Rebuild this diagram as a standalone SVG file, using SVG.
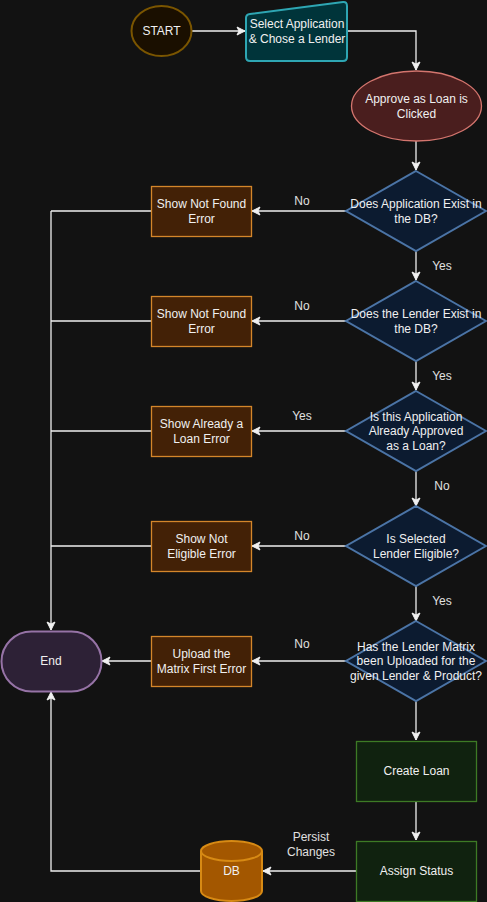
<svg xmlns="http://www.w3.org/2000/svg" width="487" height="902" viewBox="0 0 487 902">
<defs>
<marker id="arr" viewBox="0 0 10 10" refX="9" refY="5" markerWidth="10" markerHeight="10" markerUnits="userSpaceOnUse" orient="auto">
<path d="M1,1 L9,5 L1,9 L3,5 z" fill="#f0f0f0" stroke="#f0f0f0" stroke-width="1"/>
</marker>
<style>
text{font-family:"Liberation Sans",Arial,sans-serif;font-size:12px;fill:#f0f0f0;text-anchor:middle}
.e{fill:none;stroke:#f0f0f0;stroke-width:1.3}
.a{marker-end:url(#arr)}
.err{fill:#432106;stroke:#d4862a;stroke-width:1.3}
.dia{fill:#0c1b30;stroke:#4b74a6;stroke-width:2}
.grn{fill:#10220f;stroke:#3d7a25;stroke-width:1.3}
.lbl{fill:#e0e0e0}
</style>
</defs>
<rect width="487" height="902" fill="#121212"/>
<g id="connectors">
<path class="e a" d="M192,31 H245"/>
<path class="e a" d="M347,31 H416 V70"/>
<path class="e a" d="M416,141 V170"/>
<path class="e a" d="M346,211 H252"/>
<path class="e" d="M151,211 H51"/>
<path class="e a" d="M416,251 V280"/>
<path class="e a" d="M346,321 H252"/>
<path class="e" d="M151,321 H51"/>
<path class="e a" d="M416,361 V390"/>
<path class="e a" d="M346,431 H252"/>
<path class="e" d="M151,431 H51"/>
<path class="e a" d="M416,471 V506"/>
<path class="e a" d="M346,546 H252"/>
<path class="e" d="M151,546 H51"/>
<path class="e a" d="M416,586 V621"/>
<path class="e a" d="M346,661 H252"/>
<path class="e a" d="M151,661 H102"/>
<path class="e a" d="M51,211 V630"/>
<path class="e a" d="M416,701 V740"/>
<path class="e a" d="M416,801 V840"/>
<path class="e a" d="M356,871 H263"/>
<path class="e a" d="M201,871 H51 V692"/>
<text class="lbl" x="302" y="205">No</text>
<text class="lbl" x="442" y="270">Yes</text>
<text class="lbl" x="302" y="310">No</text>
<text class="lbl" x="442" y="380">Yes</text>
<text class="lbl" x="302" y="420">Yes</text>
<text class="lbl" x="442" y="490">No</text>
<text class="lbl" x="302" y="540">No</text>
<text class="lbl" x="442" y="605">Yes</text>
<text class="lbl" x="302" y="648">No</text>
<text class="lbl" x="311" y="841">Persist</text>
<text class="lbl" x="311" y="856">Changes</text>
</g>
<g id="start">
<ellipse cx="161.5" cy="31" rx="30" ry="25" fill="#1a0f00" stroke="#7a5500" stroke-width="2"/>
<text x="161.5" y="35">START</text>
</g>
<g id="select">
<path d="M250,14 L343,2 Q347,1.5 347,6 V57 Q347,61 343,61 H250 Q246,61 246,57 V18 Q246,14.5 250,14 z" fill="#00343a" stroke="#2ea6b3" stroke-width="2"/>
<text x="297" y="28">Select Application</text>
<text x="297" y="43">&amp; Chose a Lender</text>
</g>
<g id="approve">
<ellipse cx="416.5" cy="106" rx="65" ry="35" fill="#4a1e1e" stroke="#d4756e" stroke-width="1.3"/>
<text x="416.5" y="103">Approve as Loan is</text>
<text x="416.5" y="118">Clicked</text>
</g>
<g id="d1">
<path class="dia" d="M416,171 L486,211 L416,251 L346,211 z"/>
<text x="416" y="208">Does Application Exist in</text>
<text x="416" y="223">the DB?</text>
</g>
<g id="e1">
<rect class="err" x="151.5" y="186.5" width="100" height="50"/>
<text x="201.5" y="208">Show Not Found</text>
<text x="201.5" y="223">Error</text>
</g>
<g id="d2">
<path class="dia" d="M416,281 L486,321 L416,361 L346,321 z"/>
<text x="416" y="318">Does the Lender Exist in</text>
<text x="416" y="333">the DB?</text>
</g>
<g id="e2">
<rect class="err" x="151.5" y="296.5" width="100" height="50"/>
<text x="201.5" y="318">Show Not Found</text>
<text x="201.5" y="333">Error</text>
</g>
<g id="d3">
<path class="dia" d="M416,391 L486,431 L416,471 L346,431 z"/>
<text x="416" y="421">Is this Application</text>
<text x="416" y="435">Already Approved</text>
<text x="416" y="450">as a Loan?</text>
</g>
<g id="e3">
<rect class="err" x="151.5" y="406.5" width="100" height="50"/>
<text x="201.5" y="428">Show Already a</text>
<text x="201.5" y="443">Loan Error</text>
</g>
<g id="d4">
<path class="dia" d="M416,506 L486,546 L416,586 L346,546 z"/>
<text x="416" y="543">Is Selected</text>
<text x="416" y="558">Lender Eligible?</text>
</g>
<g id="e4">
<rect class="err" x="151.5" y="521.5" width="100" height="50"/>
<text x="201.5" y="543">Show Not</text>
<text x="201.5" y="558">Eligible Error</text>
</g>
<g id="d5">
<path class="dia" d="M416,621 L486,661 L416,701 L346,661 z"/>
<text x="416" y="651">Has the Lender Matrix</text>
<text x="416" y="665">been Uploaded for the</text>
<text x="416" y="680">given Lender &amp; Product?</text>
</g>
<g id="e5">
<rect class="err" x="151.5" y="636.5" width="100" height="50"/>
<text x="201.5" y="658">Upload the</text>
<text x="201.5" y="673">Matrix First Error</text>
</g>
<g id="end">
<rect x="1.5" y="631.5" width="100" height="60" rx="30" fill="#2d2136" stroke="#9673a6" stroke-width="2"/>
<text x="51" y="665">End</text>
</g>
<g id="create">
<rect class="grn" x="356.5" y="741.5" width="120" height="60"/>
<text x="416.5" y="775">Create Loan</text>
</g>
<g id="assign">
<rect class="grn" x="356.5" y="841.5" width="120" height="60"/>
<text x="416.5" y="875">Assign Status</text>
</g>
<g id="db">
<path d="M201,851 A30.5,10 0 0 1 262,851 V891 A30.5,10 0 0 1 201,891 z" fill="#a35700" stroke="#d78a14" stroke-width="2"/>
<path d="M201,851 A30.5,10 0 0 0 262,851" fill="none" stroke="#d78a14" stroke-width="2"/>
<text x="231.5" y="875">DB</text>
</g>
</svg>
